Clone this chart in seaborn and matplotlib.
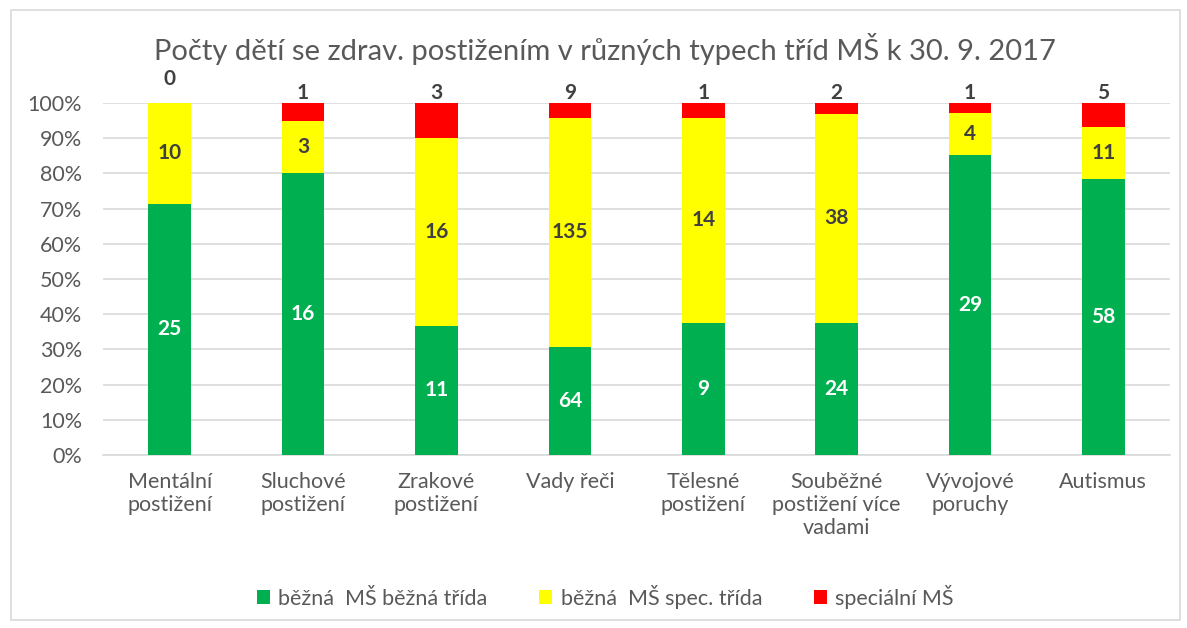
"""
Počty dětí se zdravotním postižením v různých typech tříd MŠ (stacked 100 % bars).
"""
import numpy as np
import pandas as pd
import matplotlib.pyplot as plt
import seaborn as sns
from matplotlib.patches import Patch, Rectangle

# Data
categories = ['Mentální\npostižení', 'Sluchové\npostižení', 'Zrakové\npostižení',
              'Vady řeči', 'Tělesné\npostižení', 'Souběžné\npostižení více\nvadami',
              'Vývojové\nporuchy', 'Autismus']
bezna_trida = [25, 16, 11, 64, 9, 24, 29, 58]
spec_trida = [10, 3, 16, 135, 14, 38, 4, 11]
specialni_ms = [0, 1, 3, 9, 1, 2, 1, 5]
series_names = ['běžná  MŠ běžná třída', 'běžná  MŠ spec. třída', 'speciální MŠ']
y_ticks = [0, 0.1, 0.2, 0.3, 0.4, 0.5, 0.6, 0.7, 0.8, 0.9, 1.0]
title = 'Počty dětí se zdrav. postižením v různých typech tříd MŠ k 30. 9. 2017'

colors = ['#00B050', '#FFFF00', '#FF0000']
text_gray = '#595959'
label_dark = '#404040'

sns.set_theme(style='white')
plt.rcParams['font.family'] = ['Lato', 'DejaVu Sans']

df = pd.DataFrame({'kat': categories, 'g': bezna_trida, 'y': spec_trida, 'r': specialni_ms})
total = df[['g', 'y', 'r']].sum(axis=1)
df['pg'] = df['g'] / total
df['py'] = df['y'] / total
df['pr'] = df['r'] / total
df['c1'] = df['pg']
df['c2'] = df['pg'] + df['py']
df['c3'] = df['c2'] + df['pr']

fig = plt.figure(figsize=(11.87, 6.28), dpi=100)
ax = fig.add_axes([0.0868, 0.2755, 0.8989, 0.5605])

# stacked via overlapping cumulative bars
for col, color in zip(['c3', 'c2', 'c1'], colors[::-1]):
    sns.barplot(data=df, x='kat', y=col, color=color, width=0.32,
                saturation=1, ax=ax, zorder=3, linewidth=0)

ax.set_xlim(-0.5, len(categories) - 0.5)
ax.set_ylim(0, 1.0)
ax.set_yticks(y_ticks)
ax.set_yticklabels([f'{int(round(t * 100))}%' for t in y_ticks])
ax.yaxis.grid(True, color='#D9D9D9', linewidth=1.2, zorder=0)
ax.set_axisbelow(True)
for s in ['top', 'right', 'left']:
    ax.spines[s].set_visible(False)
ax.spines['bottom'].set_color('#D9D9D9')
ax.spines['bottom'].set_linewidth(1.2)
ax.spines['bottom'].set_zorder(1)
ax.set_xlabel('')
ax.set_ylabel('')
ax.tick_params(axis='y', labelsize=15.5, labelcolor=text_gray, length=0, pad=15)
ax.tick_params(axis='x', labelsize=15.5, labelcolor=text_gray, length=0, pad=12)
for lbl in ax.get_xticklabels():
    lbl.set_linespacing(1.2)

# data labels
for i, row in df.iterrows():
    ax.text(i, row['pg'] / 2, f"{row['g']}", ha='center', va='center',
            color='white', fontsize=15, fontweight='bold', zorder=5)
    ax.text(i, row['pg'] + row['py'] / 2, f"{row['y']}", ha='center', va='center',
            color=label_dark, fontsize=15, fontweight='bold', zorder=5)
    off = 17 if row['r'] == 0 else 7
    ax.annotate(f"{row['r']}", (i, 1.0), xytext=(0, off), textcoords='offset points',
                ha='center', va='center', color=label_dark, fontsize=15,
                fontweight='bold', zorder=5, annotation_clip=False)

fig.text(0.51, 0.922, title, ha='center', va='center', fontsize=21, color=text_gray)

handles = [Patch(facecolor=c, edgecolor='none') for c in colors]
fig.legend(handles, series_names, loc='center', bbox_to_anchor=(0.51, 0.05), ncol=3,
           frameon=False, fontsize=15.5, handlelength=0.6, handleheight=0.6,
           handletextpad=0.4, columnspacing=2.4, labelcolor=text_gray)

fig.patches.append(Rectangle((0.009, 0.012), 0.985, 0.972, transform=fig.transFigure,
                             fill=False, edgecolor='#D9D9D9', linewidth=1.2))

fig.savefig('out.png', dpi=100, facecolor='white')
plt.close(fig)
